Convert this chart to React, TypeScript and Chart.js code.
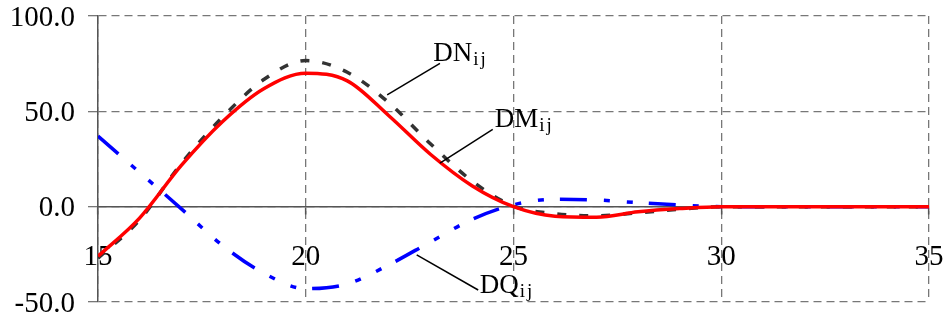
import React, { useEffect, useRef } from 'react';
import { Chart, registerables } from 'chart.js';

Chart.register(...registerables);

// ---- data ----
const xValues = [15, 16, 17, 18, 19, 20, 21, 22, 23, 24, 25, 26, 27, 28, 29, 30, 31, 32, 33, 34, 35];
const dmValues = [-26, -6, 21.5, 44.7, 62, 70, 66, 47.7, 27.5, 11, 0, -5, -5.5, -2.7, -1, 0, 0, 0, 0, 0, 0];
const dnValues = [-27, -7, 22.5, 47, 66.8, 76.6, 70.5, 54.5, 33, 13.5, 0.3, -3.7, -4.8, -3.2, -1.4, 0, 0, 0, 0, 0, 0];
const dqValues = [37, 18, -1, -20.4, -35, -43, -40.5, -30.5, -18.5, -6.7, 1, 3.9, 3.5, 2.1, 0.9, 0, 0, 0, 0, 0, 0];

const xTicks = [15, 20, 25, 30, 35];
const yTicks = [-50, 0, 50, 100];

// annotation labels (data coordinates)
const labelTexts = ['DN', 'DM', 'DQ'];
const labelSub = 'ij';
const labelX = [23.07, 24.55, 24.19];
const labelY = [76.6, 41.6, -45.1];
const leaderFromX = [23.23, 24.5, 22.67];
const leaderFromY = [75.2, 40.6, -25.3];
const leaderToX = [21.96, 23.23, 24.15];
const leaderToY = [58.6, 22.8, -43.7];

const FONT = '"Liberation Serif", "Times New Roman", serif';

const leaderPlugin = {
  id: 'leaderLabels',
  afterDatasetsDraw(chart: any) {
    const { ctx, scales } = chart;
    const xs = scales.x;
    const ys = scales.y;
    ctx.save();
    for (let i = 0; i < labelTexts.length; i++) {
      ctx.beginPath();
      ctx.moveTo(xs.getPixelForValue(leaderFromX[i]), ys.getPixelForValue(leaderFromY[i]));
      ctx.lineTo(xs.getPixelForValue(leaderToX[i]), ys.getPixelForValue(leaderToY[i]));
      ctx.strokeStyle = '#000';
      ctx.lineWidth = 1.5;
      ctx.setLineDash([]);
      ctx.stroke();

      const tx = xs.getPixelForValue(labelX[i]);
      const ty = ys.getPixelForValue(labelY[i]);
      ctx.fillStyle = '#000';
      ctx.textBaseline = 'alphabetic';
      ctx.textAlign = 'left';
      ctx.font = `27px ${FONT}`;
      ctx.fillText(labelTexts[i], tx, ty);
      const w = ctx.measureText(labelTexts[i]).width;
      ctx.font = `19px ${FONT}`;
      try { (ctx as any).letterSpacing = '2px'; } catch (e) {}
      ctx.fillText(labelSub, tx + w + 1, ty + 4);
      try { (ctx as any).letterSpacing = '0px'; } catch (e) {}
    }
    ctx.restore();
  },
};

export default function App() {
  const canvasRef = useRef<HTMLCanvasElement | null>(null);

  useEffect(() => {
    const canvas = canvasRef.current;
    if (!canvas) return;
    const toPts = (vals: number[]) => xValues.map((x, i) => ({ x, y: vals[i] }));

    const chart = new Chart(canvas, {
      type: 'line',
      data: {
        datasets: [
          {
            label: 'DM',
            data: toPts(dmValues),
            borderColor: '#ff0000',
            borderWidth: 3.5,
            pointRadius: 0,
            cubicInterpolationMode: 'monotone',
            fill: false,
          },
          {
            label: 'DN',
            data: toPts(dnValues),
            borderColor: '#333333',
            borderWidth: 3.5,
            borderDash: [9, 13],
            pointRadius: 0,
            cubicInterpolationMode: 'monotone',
            fill: false,
          },
          {
            label: 'DQ',
            data: toPts(dqValues),
            borderColor: '#0000ff',
            borderWidth: 3.5,
            borderDash: [27, 17, 6, 17, 6, 16],
            pointRadius: 0,
            cubicInterpolationMode: 'monotone',
            fill: false,
          },
        ],
      },
      options: {
        animation: false,
        responsive: false,
        maintainAspectRatio: false,
        layout: { padding: { top: 16, right: 16, bottom: 20, left: 0 } },
        plugins: {
          legend: { display: false },
          tooltip: { enabled: false },
        },
        scales: {
          x: {
            type: 'linear',
            position: { y: 0 } as any,
            min: 15,
            max: 35,
            afterBuildTicks: (scale: any) => {
              scale.ticks = xTicks.map((v) => ({ value: v }));
            },
            afterFit: (scale: any) => {
              scale.paddingLeft = 0;
              scale.paddingRight = 0;
            },
            grid: {
              color: '#777777',
              lineWidth: 1.3,
              drawTicks: true,
              tickLength: 7,
              tickColor: '#555555',
              tickWidth: 1.5,
            },
            border: { display: true, color: '#555555', width: 1.5, dash: [8, 5] },
            ticks: {
              font: { family: FONT, size: 29 },
              color: '#000',
              padding: 26,
              maxRotation: 0,
              autoSkip: false,
              callback: (v: any) => String(v),
            },
          },
          y: {
            type: 'linear',
            position: 'left',
            min: -50,
            max: 100,
            afterBuildTicks: (scale: any) => {
              scale.ticks = yTicks.map((v) => ({ value: v }));
            },
            afterFit: (scale: any) => {
              scale.width = 98;
              scale.paddingTop = 0;
              scale.paddingBottom = 0;
            },
            grid: {
              color: '#777777',
              lineWidth: 1.3,
              drawTicks: true,
              tickLength: 10,
              tickColor: '#777777',
            },
            border: { display: true, color: '#555555', width: 1.5, dash: [8, 5] },
            ticks: {
              font: { family: FONT, size: 29 },
              color: '#000',
              padding: 13,
              labelOffset: 2,
              autoSkip: false,
              callback: (v: any) => Number(v).toFixed(1),
            },
          },
        },
      },
      plugins: [leaderPlugin],
    } as any);

    return () => chart.destroy();
  }, []);

  return (
    <div style={{ position: 'fixed', left: 0, top: 0, width: 945, height: 322, background: '#fff' }}>
      <canvas ref={canvasRef} width={945} height={322} style={{ display: 'block', width: 945, height: 322 }} />
    </div>
  );
}
